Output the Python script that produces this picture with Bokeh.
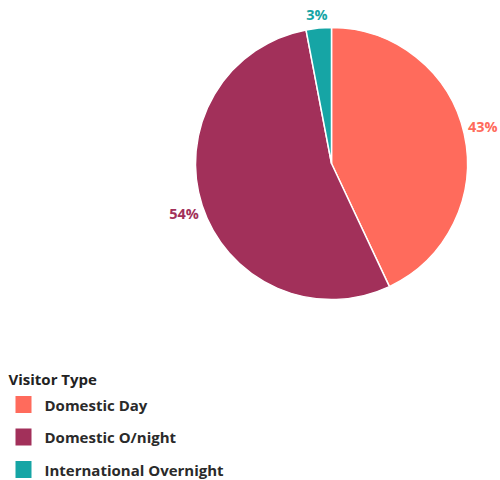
import math
from bokeh.plotting import figure
from bokeh.models import ColumnDataSource, Range1d
from bokeh.core.properties import value
from bokeh.embed import file_html
from bokeh.resources import INLINE

categories = ["Domestic Day", "Domestic O/night", "International Overnight"]
shares = [43, 54, 3]
colors = ["#FF6B5C", "#A2305A", "#16A5A5"]
legend_title = "Visitor Type"

W, H = 500, 480
cx, cy, R = 331, H - 163, 136

total = sum(shares)
starts, ends, lx, ly, labels = [], [], [], [], []
acc = 0.0
for s in shares:
    a0 = math.pi / 2 - 2 * math.pi * acc / total
    a1 = math.pi / 2 - 2 * math.pi * (acc + s) / total
    starts.append(a0)
    ends.append(a1)
    mid = (a0 + a1) / 2
    lx.append(cx + (R + 19) * math.cos(mid))
    ly.append(cy + (R + 14) * math.sin(mid) + 4 * math.cos(mid))
    labels.append(f"{s}%")
    acc += s

src = ColumnDataSource(dict(start=starts, end=ends, color=colors, lx=lx, ly=ly, label=labels,
                            cat=categories))

p = figure(width=W, height=H, output_backend="svg", toolbar_location=None,
           x_range=Range1d(0, W), y_range=Range1d(0, H), min_border=0)
p.axis.visible = False
p.grid.visible = False
p.outline_line_color = None
p.background_fill_color = "white"

p.wedge(x=cx, y=cy, radius=R, start_angle="start", end_angle="end", direction="clock",
        fill_color="color", line_color="white", line_width=1.5, source=src)

p.text(x="lx", y="ly", text="label", text_color="color", text_align="center",
       text_baseline="middle", text_font=value("Open Sans"), text_font_style="bold",
       text_font_size="14.5px", source=src)

# legend
p.text(x=[8], y=[H - 378], text=[legend_title], text_color="#222222",
       text_font=value("Open Sans"), text_font_style="bold", text_font_size="15px",
       text_baseline="middle")
n = len(categories)
leg_y = [H - (404 + 32.5 * i) for i in range(n)]
lsrc = ColumnDataSource(dict(y=leg_y, color=colors, cat=categories,
                             x=[23] * n, tx=[44] * n))
p.rect(x="x", y="y", width=16, height=17, fill_color="color", line_color=None, source=lsrc)
p.text(x="tx", y="y", text="cat", text_color="#2a2a2a", text_font=value("Open Sans"),
       text_font_style="bold", text_font_size="15px", text_baseline="middle", source=lsrc)

open("out.html", "w").write(file_html(p, INLINE))
